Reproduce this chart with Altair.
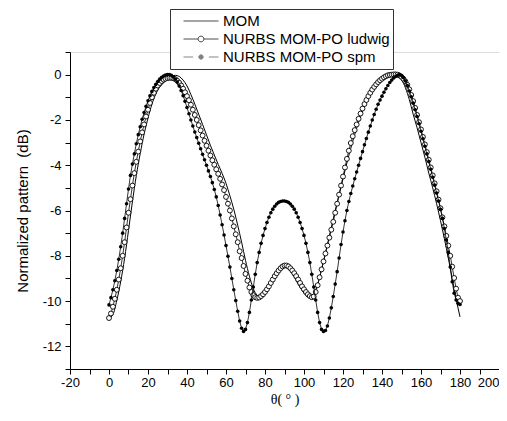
import altair as alt
import pandas as pd

# ---------------- data ----------------
theta_pts = list(range(0, 181))

ludwig_db = [
    -10.75, -10.55, -10.25, -9.9, -9.5, -9.05, -8.55, -8.0, -7.4, -6.75,
    -6.1, -5.5, -4.9, -4.35, -3.85, -3.4, -2.95, -2.55, -2.2, -1.85,
    -1.55, -1.25, -1.0, -0.8, -0.62, -0.48, -0.37, -0.28, -0.22, -0.18,
    -0.15, -0.14, -0.14, -0.16, -0.2, -0.27, -0.36, -0.48, -0.62, -0.78,
    -0.95, -1.13, -1.33, -1.55, -1.78, -2.0, -2.23, -2.46, -2.69, -2.92,
    -3.14, -3.36, -3.57, -3.78, -3.98, -4.18, -4.38, -4.6, -4.85, -5.1,
    -5.4, -5.7, -6.0, -6.35, -6.7, -7.05, -7.4, -7.8, -8.1, -8.45,
    -8.8, -9.1, -9.4, -9.6, -9.74, -9.83, -9.86, -9.84, -9.78, -9.7,
    -9.6, -9.48, -9.35, -9.2, -9.05, -8.9, -8.77, -8.65, -8.55, -8.47,
    -8.43, -8.43, -8.47, -8.55, -8.65, -8.77, -8.9, -9.05, -9.2, -9.35,
    -9.48, -9.6, -9.7, -9.78, -9.83, -9.8, -9.6, -9.3, -8.95, -8.6,
    -8.25, -7.9, -7.55, -7.2, -6.85, -6.5, -6.1, -5.7, -5.3, -4.9,
    -4.5, -4.1, -3.72, -3.36, -3.02, -2.72, -2.45, -2.2, -1.95, -1.72,
    -1.5, -1.3, -1.12, -0.95, -0.8, -0.66, -0.54, -0.43, -0.33, -0.25,
    -0.18, -0.12, -0.07, -0.03, -0.01, 0.0, 0.01, 0.01, 0.0, -0.04,
    -0.1, -0.19, -0.3, -0.45, -0.65, -0.9, -1.17, -1.47, -1.78, -2.1,
    -2.42, -2.75, -3.08, -3.42, -3.76, -4.1, -4.45, -4.8, -5.15, -5.52,
    -5.9, -6.3, -6.7, -7.12, -7.55, -8.0, -8.48, -8.98, -9.45, -9.85,
    -10.0,
]

spm_db = [
    -10.17, -9.85, -9.5, -9.1, -8.65, -8.15, -7.6, -7.0, -6.35, -5.7,
    -5.05, -4.45, -3.95, -3.5, -3.05, -2.65, -2.3, -1.97, -1.67, -1.4,
    -1.15, -0.93, -0.74, -0.57, -0.43, -0.3, -0.2, -0.12, -0.06, -0.02,
    0.0, 0.0, -0.03, -0.1, -0.2, -0.33, -0.5, -0.7, -0.93, -1.18,
    -1.45, -1.73, -2.0, -2.27, -2.53, -2.78, -3.03, -3.27, -3.52, -3.76,
    -4.0, -4.25, -4.5, -4.77, -5.07, -5.4, -5.78, -6.2, -6.63, -7.08,
    -7.55, -8.02, -8.5, -9.0, -9.5, -9.98, -10.45, -10.88, -11.2, -11.34,
    -11.25, -10.95, -10.5, -9.95, -9.38, -8.82, -8.3, -7.85, -7.45, -7.1,
    -6.8, -6.53, -6.3, -6.1, -5.94, -5.81, -5.71, -5.64, -5.6, -5.58,
    -5.58, -5.6, -5.64, -5.71, -5.81, -5.94, -6.1, -6.3, -6.53, -6.8,
    -7.1, -7.45, -7.85, -8.3, -8.82, -9.38, -9.95, -10.5, -10.95, -11.25,
    -11.34, -11.3, -11.1, -10.75, -10.3, -9.8, -9.25, -8.7, -8.1, -7.5,
    -6.95, -6.45, -6.0, -5.6, -5.25, -4.92, -4.6, -4.3, -4.0, -3.7,
    -3.4, -3.1, -2.82, -2.54, -2.27, -2.0, -1.76, -1.53, -1.31, -1.12,
    -0.95, -0.78, -0.62, -0.48, -0.35, -0.24, -0.15, -0.08, -0.03, 0.0,
    -0.04, -0.13, -0.28, -0.48, -0.72, -0.98, -1.26, -1.55, -1.85, -2.17,
    -2.5, -2.83, -3.16, -3.5, -3.84, -4.18, -4.53, -4.88, -5.23, -5.58,
    -5.95, -6.35, -6.8, -7.3, -7.85, -8.5, -9.15, -9.65, -9.95, -10.1,
    -10.15,
]

mom_theta = list(range(0, 181, 2))
mom_db = [
    -10.75, -10.6, -9.97, -9.14, -8.11, -6.88, -5.62, -4.46, -3.49, -2.63,
    -1.92, -1.31, -0.86, -0.55, -0.36, -0.2, -0.08, -0.03, -0.08, -0.24,
    -0.5, -0.88, -1.3, -1.75, -2.2, -2.66, -3.12, -3.55, -3.96, -4.36,
    -4.8, -5.35, -5.95, -6.65, -7.4, -8.2, -8.9, -9.45, -9.75, -9.85,
    -9.72, -9.45, -9.15, -8.85, -8.6, -8.5, -8.58, -8.8, -9.1, -9.4,
    -9.65, -9.82, -9.8, -9.5, -8.95, -8.25, -7.5, -6.75, -6.0, -5.3,
    -4.6, -3.9, -3.25, -2.65, -2.1, -1.62, -1.2, -0.85, -0.56, -0.34,
    -0.18, -0.07, -0.01, 0.0, -0.05, -0.22, -0.58, -1.1, -1.75, -2.35,
    -3.0, -3.65, -4.35, -5.0, -5.7, -6.45, -7.25, -8.1, -9.0, -9.9,
    -10.7,
]

series_names = ["MOM", "NURBS MOM-PO ludwig", "NURBS MOM-PO spm"]
x_ticks = list(range(-20, 201, 10))
y_ticks = list(range(-13, 2))

# ---------------- tables ----------------
mom_df = pd.DataFrame({"theta": mom_theta, "db": mom_db, "series": series_names[0]})
lud_df = pd.DataFrame({"theta": theta_pts, "db": ludwig_db, "series": series_names[1]})
spm_df = pd.DataFrame({"theta": theta_pts, "db": spm_db, "series": series_names[2]})
all_df = pd.concat([mom_df, lud_df, spm_df], ignore_index=True)

FONT = "Liberation Sans"

x_enc = alt.X(
    "theta:Q",
    scale=alt.Scale(domain=[-20, 200], nice=False, zero=False),
    axis=alt.Axis(
        values=x_ticks,
        labelExpr="datum.value % 20 == 0 ? '' + datum.value : ''",
        labelAlign={"condition": {"test": "datum.value >= 200", "value": "right"}, "value": "center"},
        title="θ( ° )",
        titleFont="Liberation Serif",
        titleFontSize=14,
        titleFontWeight="normal",
        titleColor="black",
        titlePadding=3,
        labelFont=FONT,
        labelFontSize=13,
        labelColor="black",
        labelPadding=2,
        tickSize=5,
        tickColor="black",
        domainColor="black",
        grid=False,
        labelFlush=False,
        labelOverlap=False,
    ),
)
y_enc = alt.Y(
    "db:Q",
    scale=alt.Scale(domain=[-13, 1], nice=False, zero=False),
    axis=alt.Axis(
        values=y_ticks,
        labelExpr="datum.value % 2 == 0 ? '' + datum.value : ''",
        title="Normalized pattern\u00a0 (dB)",
        titleFont=FONT,
        titleFontSize=15,
        titleFontWeight="normal",
        titleColor="black",
        titlePadding=12,
        labelFont=FONT,
        labelFontSize=13,
        labelColor="black",
        labelPadding=4,
        tickSize=5,
        tickColor="black",
        domainColor="black",
        grid=False,
        labelFlush=False,
        labelOverlap=False,
    ),
)

mom_line = alt.Chart(mom_df).mark_line(
    color="black", strokeWidth=1, interpolate="monotone"
).encode(x=x_enc, y=y_enc)

lud_line = alt.Chart(lud_df).mark_line(color="black", strokeWidth=0.8).encode(x=x_enc, y=y_enc)
lud_pts = alt.Chart(lud_df).mark_circle(
    size=24, fill="white", stroke="black", strokeWidth=0.9, opacity=1
).encode(x=x_enc, y=y_enc)

spm_line = alt.Chart(spm_df).mark_line(color="black", strokeWidth=0.8).encode(x=x_enc, y=y_enc)
spm_pts = alt.Chart(spm_df).mark_circle(size=13, color="black", opacity=1).encode(x=x_enc, y=y_enc)

# legend symbols (custom paths: line, line+open circle, dashed line+dot)
shape_paths = [
    "M-1,0L1,0",
    "M-1,0L-0.166,0M0.166,0L1,0M-0.166,0A0.166,0.166,0,1,0,0.166,0A0.166,0.166,0,1,0,-0.166,0Z",
    "M-1,0L-0.45,0M0.45,0L1,0M-0.126,0A0.126,0.126,0,1,0,0.126,0A0.126,0.126,0,1,0,-0.126,0Z",
]
legend = alt.Legend(
    title=None,
    orient="none",
    legendX=100,
    legendY=-43,
    direction="vertical",
    symbolSize=1225,
    symbolStrokeWidth=1,
    clipHeight=18,
    rowPadding=0,
    padding=3,
    symbolOffset=10,
    labelOffset=4,
    labelFont=FONT,
    labelFontSize=15,
    labelColor="black",
    labelLimit=400,
    strokeColor="#333333",
    fillColor="white",
)
legend_layer = alt.Chart(all_df).mark_point(size=0).encode(
    x=x_enc,
    y=y_enc,
    shape=alt.Shape("series:N", scale=alt.Scale(domain=series_names, range=shape_paths), legend=legend),
    fill=alt.Fill("series:N", scale=alt.Scale(domain=series_names, range=["transparent", "white", "black"]), legend=legend),
    stroke=alt.Stroke("series:N", scale=alt.Scale(domain=series_names, range=["black", "black", "#555555"]), legend=legend),
)

chart = alt.layer(
    mom_line, lud_line, lud_pts, spm_line, spm_pts, legend_layer
).properties(
    width=429,
    height=317,
    padding={"left": 62, "top": 44, "right": 0, "bottom": 40},
    autosize=alt.AutoSizeParams(type="none"),
).configure_view(stroke=None).configure(background="white")

chart.save("out.html", embed_options={"renderer": "svg", "actions": False})
